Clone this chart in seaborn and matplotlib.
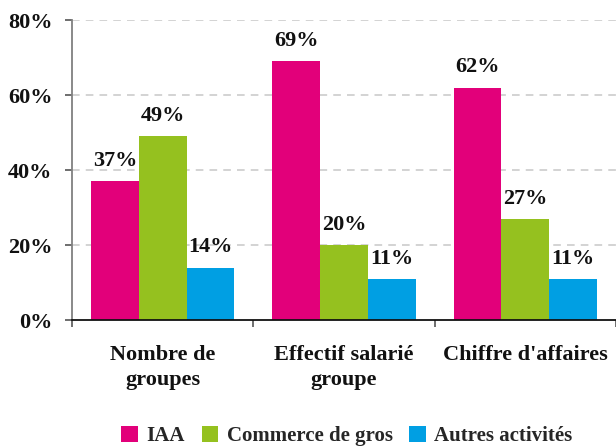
import matplotlib
matplotlib.use("Agg")
import matplotlib.pyplot as plt
from matplotlib.patches import Patch
import seaborn as sns
import pandas as pd

# Indicators and the share of each activity
categories = ["Nombre de\ngroupes", "Effectif salarié\ngroupe", "Chiffre d'affaires"]
series = ["IAA", "Commerce de gros", "Autres activités"]
iaa = [37, 69, 62]
commerce = [49, 20, 27]
autres = [14, 11, 11]
y_ticks = [0, 20, 40, 60, 80]
y_tick_labels = ["0%", "20%", "40%", "60%", "80%"]

colors = ["#E2007A", "#95C11F", "#009FE3"]

df = pd.DataFrame({
    "categorie": categories * 3,
    "serie": [s for s in series for _ in categories],
    "valeur": iaa + commerce + autres,
})

sns.set_theme(style="white")
plt.rcParams["font.family"] = ["Liberation Serif", "DejaVu Serif"]
plt.rcParams["font.weight"] = "bold"

fig = plt.figure(figsize=(6.16, 4.48), dpi=100)
ax = fig.add_axes([72 / 616, 128 / 448, 1 - 72 / 616, 300 / 448])

sns.barplot(data=df, x="categorie", y="valeur", hue="serie", order=categories,
            hue_order=series, palette=colors, saturation=1, width=0.79,
            linewidth=0, ax=ax, legend=False, errorbar=None)

for container in ax.containers:
    for bar in container:
        h = bar.get_height()
        ax.annotate(f"{h:.0f}%", (bar.get_x() + bar.get_width() / 2, h),
                    xytext=(0, 14.5), textcoords="offset points",
                    ha="center", va="center", fontsize=16, fontweight="bold",
                    color="#111111")

ax.set_ylim(0, 80)
ax.set_xlim(-0.5, 2.457)
ax.set_yticks(y_ticks)
ax.set_yticklabels(y_tick_labels, fontsize=16, fontweight="bold", color="#111111")
ax.set_xticks(range(len(categories)))
ax.set_xticklabels(categories, fontsize=16, fontweight="bold", color="#111111",
                   linespacing=1.35)
ax.set_xticks([-0.5, 0.5, 1.5, 2.5], minor=True)
ax.tick_params(axis="x", which="major", length=0, pad=18)
ax.tick_params(axis="x", which="minor", length=5, width=1.2, color="#555555",
               direction="out", bottom=True)
ax.tick_params(axis="y", which="major", length=5, width=1.2, color="#555555",
               direction="out", left=True, pad=9)
ax.set_xlabel("")
ax.set_ylabel("")

for y in y_ticks[1:]:
    ax.axhline(y, color="#c8c8c8", lw=1.1, dashes=(5, 4), zorder=0)

for side in ["top", "right"]:
    ax.spines[side].set_visible(False)
ax.spines["left"].set_color("#808080")
ax.spines["left"].set_linewidth(1.3)
ax.spines["bottom"].set_color("#111111")
ax.spines["bottom"].set_linewidth(1.3)

handles = [Patch(facecolor=c, edgecolor="none") for c in colors]
fig.legend(handles, series, loc="center", bbox_to_anchor=(347 / 616, 1 - 436 / 448),
           ncol=3, frameon=False, handlelength=0.8, handleheight=0.8,
           handletextpad=0.4, columnspacing=0.8,
           prop={"weight": "bold", "size": 15})

fig.savefig("out.png", dpi=100)
